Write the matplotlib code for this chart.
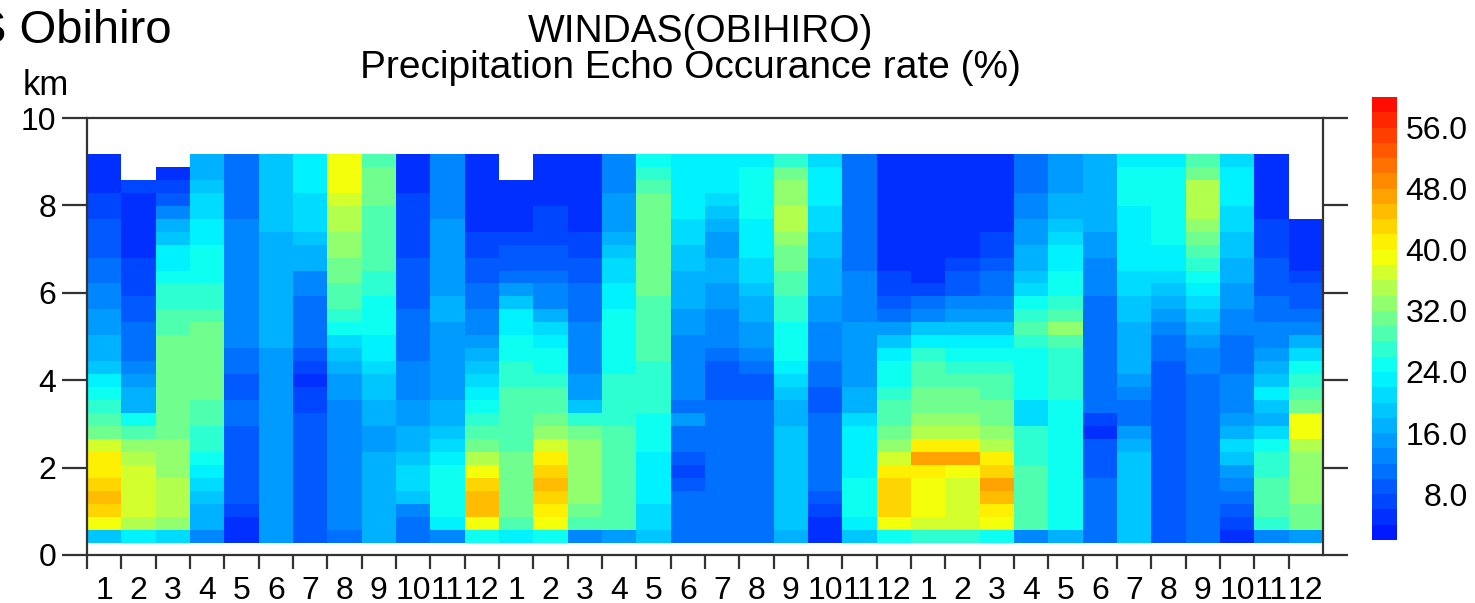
import numpy as np
import matplotlib
matplotlib.use('Agg')
import matplotlib.pyplot as plt
from matplotlib.colors import LinearSegmentedColormap, Normalize
from matplotlib.ticker import FormatStrFormatter

plt.rcParams['font.family'] = ['Liberation Sans', 'DejaVu Sans']

nan = float('nan')

# month labels for the three years on the x axis
months = list(range(1, 13)) * 3

# precipitation echo occurrence rate (%), one profile per month,
# range gates listed from the lowest one upward (nan = no data)
rate_y1 = [
    [18, 38, 42, 44, 42, 40, 40, 36, 30, 28, 26, 24, 22, 18, 17, 16, 15, 14, 13, 12, 11, 10, 9, 8, 8, 7, 6, 5, 5, 5],
    [22, 35, 36, 36, 36, 36, 35, 33, 28, 24, 17, 16, 15, 12, 11, 11, 10, 8, 8, 7, 6, 6, 5, 5, 5, 5, 5, 6, nan, nan],
    [20, 33, 34, 34, 34, 33, 33, 32, 31, 31, 31, 31, 31, 31, 30, 30, 29, 28, 27, 26, 24, 23, 22, 19, 16, 12, 8, 6, 5, nan],
    [12, 16, 17, 18, 20, 22, 24, 26, 27, 28, 29, 30, 31, 31, 31, 31, 30, 29, 27, 26, 25, 24, 24, 23, 22, 21, 20, 18, 17, 16],
    [4, 5, 7, 8, 8, 8, 9, 9, 9, 10, 10, 9, 9, 10, 11, 12, 13, 13, 13, 13, 13, 13, 12, 12, 12, 11, 11, 11, 11, 11],
    [15, 14, 14, 14, 14, 14, 14, 14, 14, 15, 14, 14, 14, 14, 15, 16, 16, 16, 16, 16, 16, 16, 16, 17, 18, 18, 18, 18, 18, 18],
    [8, 8, 8, 8, 8, 8, 8, 8, 8, 8, 7, 6, 5, 6, 9, 10, 10, 11, 11, 12, 13, 16, 17, 18, 20, 21, 21, 22, 22, 22],
    [11, 12, 12, 12, 12, 12, 12, 13, 13, 13, 13, 14, 15, 16, 18, 21, 24, 26, 28, 29, 30, 31, 32, 33, 34, 35, 37, 38, 39, 39],
    [16, 17, 17, 17, 17, 16, 16, 15, 15, 16, 17, 18, 19, 20, 22, 23, 24, 24, 25, 26, 27, 28, 28, 29, 29, 29, 30, 30, 30, 29],
    [10, 10, 12, 19, 20, 20, 19, 17, 16, 15, 14, 13, 12, 12, 11, 11, 10, 10, 9, 9, 8, 8, 7, 7, 6, 6, 6, 5, 5, 5],
    [13, 23, 24, 25, 25, 24, 23, 21, 19, 17, 16, 15, 14, 14, 15, 15, 15, 16, 16, 15, 15, 15, 15, 14, 14, 13, 13, 12, 12, 12],
    [24, 39, 44, 45, 43, 39, 35, 31, 28, 26, 24, 22, 20, 19, 17, 15, 13, 12, 11, 10, 9, 8, 7, 6, 5, 5, 5, 5, 5, 5],
]
rate_y2 = [
    [22, 29, 30, 30, 30, 30, 30, 29, 29, 29, 28, 28, 27, 26, 25, 24, 23, 22, 18, 14, 11, 9, 8, 6, 5, 5, 5, 5, nan, nan],
    [24, 38, 41, 43, 44, 43, 41, 37, 32, 30, 29, 28, 27, 25, 24, 22, 20, 16, 13, 12, 10, 9, 8, 7, 6, 6, 5, 5, 5, 5],
    [12, 29, 31, 32, 32, 32, 32, 32, 31, 27, 18, 15, 14, 13, 13, 12, 12, 11, 11, 10, 9, 8, 7, 6, 5, 5, 5, 5, 5, 5],
    [14, 28, 29, 29, 29, 29, 28, 28, 28, 27, 27, 26, 26, 25, 25, 24, 24, 24, 23, 22, 21, 20, 18, 16, 15, 14, 14, 13, 12, 12],
    [18, 21, 21, 22, 22, 22, 23, 24, 24, 25, 26, 27, 27, 27, 28, 28, 28, 29, 29, 30, 30, 31, 31, 31, 31, 30, 30, 29, 27, 24],
    [10, 10, 10, 10, 9, 7, 9, 10, 10, 14, 11, 12, 12, 12, 12, 13, 14, 15, 16, 16, 17, 18, 19, 20, 21, 22, 23, 23, 23, 22],
    [11, 11, 11, 11, 11, 11, 11, 11, 11, 11, 10, 9, 8, 9, 11, 12, 13, 13, 14, 15, 16, 16, 15, 14, 17, 19, 21, 22, 22, 22],
    [11, 11, 11, 11, 11, 11, 11, 11, 11, 11, 10, 9, 9, 10, 12, 14, 15, 16, 17, 18, 20, 21, 22, 23, 23, 24, 24, 24, 24, 23],
    [17, 19, 19, 19, 19, 19, 19, 19, 18, 17, 16, 19, 21, 23, 24, 24, 25, 26, 27, 28, 29, 30, 31, 33, 34, 34, 33, 32, 30, 27],
    [4, 5, 7, 9, 10, 10, 10, 10, 10, 10, 9, 9, 11, 11, 12, 13, 13, 14, 15, 16, 16, 17, 18, 19, 20, 21, 22, 22, 22, 21],
    [18, 23, 24, 24, 24, 23, 23, 22, 22, 20, 17, 16, 15, 14, 14, 14, 14, 13, 13, 12, 12, 11, 10, 10, 10, 10, 10, 10, 11, 11],
    [24, 38, 42, 43, 42, 40, 37, 33, 30, 29, 28, 27, 25, 24, 22, 18, 14, 11, 9, 7, 6, 5, 5, 5, 5, 5, 5, 5, 5, 5],
]
rate_y3 = [
    [26, 37, 38, 39, 39, 41, 47, 40, 35, 32, 31, 30, 29, 28, 26, 22, 18, 13, 10, 7, 5, 4, 4, 4, 4, 4, 4, 4, 4, 4],
    [26, 36, 36, 37, 37, 39, 47, 40, 35, 32, 31, 30, 28, 27, 25, 22, 18, 14, 12, 9, 8, 6, 5, 4, 4, 4, 4, 4, 4, 4],
    [24, 38, 40, 44, 46, 43, 40, 35, 32, 31, 30, 29, 28, 26, 24, 22, 19, 14, 12, 11, 10, 8, 7, 6, 5, 5, 5, 5, 5, 5],
    [12, 28, 28, 28, 28, 28, 27, 27, 26, 20, 21, 24, 25, 24, 24, 26, 28, 27, 24, 21, 19, 17, 16, 15, 14, 13, 12, 11, 10, 10],
    [16, 24, 24, 25, 25, 25, 25, 25, 25, 25, 25, 26, 26, 26, 27, 29, 32, 29, 27, 25, 24, 23, 22, 20, 18, 17, 16, 15, 14, 14],
    [10, 10, 10, 10, 10, 9, 8, 8, 5, 6, 10, 11, 11, 11, 11, 11, 11, 11, 11, 12, 12, 13, 14, 15, 16, 16, 16, 16, 16, 16],
    [18, 18, 18, 18, 18, 18, 18, 17, 14, 11, 11, 13, 15, 16, 16, 17, 17, 18, 19, 20, 21, 22, 22, 23, 23, 23, 24, 24, 24, 23],
    [9, 9, 9, 9, 9, 9, 9, 9, 9, 9, 9, 9, 9, 9, 10, 11, 13, 15, 17, 19, 21, 22, 23, 24, 24, 24, 24, 24, 24, 23],
    [11, 11, 11, 11, 11, 11, 11, 11, 11, 11, 11, 11, 11, 12, 13, 15, 17, 19, 21, 23, 24, 26, 28, 30, 32, 34, 35, 34, 31, 29],
    [5, 6, 8, 11, 12, 14, 18, 20, 16, 14, 13, 12, 12, 11, 11, 11, 12, 13, 14, 15, 16, 17, 18, 19, 20, 21, 22, 22, 22, 21],
    [12, 27, 28, 28, 28, 27, 26, 24, 20, 17, 18, 22, 18, 16, 15, 13, 12, 11, 10, 9, 9, 8, 7, 7, 6, 5, 5, 5, 5, 5],
    [14, 30, 31, 32, 32, 33, 33, 35, 39, 39, 31, 28, 27, 24, 20, 16, 13, 11, 9, 8, 6, 5, 5, 5, 5, nan, nan, nan, nan, nan],
]

rates = np.array(rate_y1 + rate_y2 + rate_y3, dtype=float).T
n_gates = rates.shape[0]
gate_edges = np.linspace(0.28, 9.18, n_gates + 1)
col_edges = np.arange(len(months) + 1)

# jet-like scale: blue -> cyan -> yellow -> red, banded every 2 %
cmap = LinearSegmentedColormap.from_list(
    'echo',
    [(0.0, (0.0, 0.1, 1.0)),
     (22 / 58, (0.0, 1.0, 1.0)),
     (30 / 58, (0.5, 1.0, 0.5)),
     (38 / 58, (1.0, 1.0, 0.0)),
     (1.0, (1.0, 0.05, 0.0))],
    N=29)
norm = Normalize(vmin=2, vmax=60)

W, H = 1475, 603
fig = plt.figure(figsize=(W / 100, H / 100), dpi=100)
ax = fig.add_axes([87 / W, 1 - 555 / H, (1323 - 87) / W, (555 - 118) / H])

mesh = ax.pcolormesh(col_edges, gate_edges, np.ma.masked_invalid(rates),
                     cmap=cmap, norm=norm, shading='flat', antialiased=False)

ax.set_xlim(0, len(months))
ax.set_ylim(0, 10)

frame = '#333333'
for sp in ax.spines.values():
    sp.set_linewidth(1.6)
    sp.set_color(frame)

# month boundaries as ticks, month numbers centred in each column
ax.set_xticks(col_edges[:-1])
ax.set_xticklabels([])
ax.set_xticks(col_edges[:-1] + 0.5, minor=True)
ax.set_xticklabels([str(m) for m in months], minor=True)
ax.tick_params(axis='x', which='major', direction='out', length=10, width=1.6, color=frame)
ax.tick_params(axis='x', which='minor', length=0, pad=15, labelsize=23)

ax.set_yticks(range(0, 11, 2))
ax.tick_params(axis='y', which='major', left=True, right=True, direction='out',
               length=18, width=1.6, color=frame, labelsize=23, pad=4)

# colour bar
cax = fig.add_axes([1372 / W, 1 - 540 / H, 25 / W, 443 / H])
cb = fig.colorbar(mesh, cax=cax, ticks=range(8, 57, 8))
cb.outline.set_visible(False)
cax.yaxis.set_major_formatter(FormatStrFormatter('%.1f'))
cax.tick_params(length=0, pad=51, labelsize=23)
for lab in cax.get_yticklabels():
    lab.set_horizontalalignment('right')

fig.text(-25 / W, 1 - 43 / H, 'S Obihiro', fontsize=34, va='baseline')
fig.text(701 / W, 1 - 42 / H, 'WINDAS(OBIHIRO)', fontsize=28, ha='center', va='baseline')
fig.text(690 / W, 1 - 78 / H, 'Precipitation Echo Occurance rate (%)', fontsize=28,
         ha='center', va='baseline')
fig.text(23 / W, 1 - 95 / H, 'km', fontsize=25, va='baseline')

fig.savefig('out.png', dpi=100)
